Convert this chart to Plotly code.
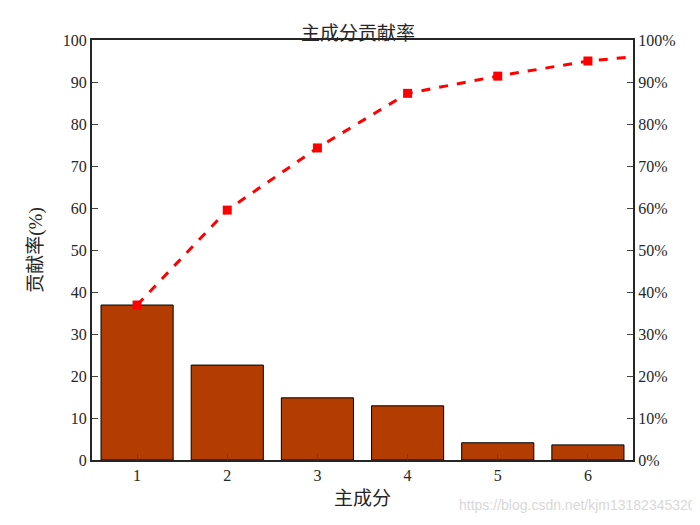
import plotly.graph_objects as go

components = [1, 2, 3, 4, 5, 6, 7]
contrib = [36.9, 22.6, 14.8, 12.9, 4.1, 3.6, 2.0]
cumulative = [36.9, 59.5, 74.3, 87.3, 91.4, 95.0, 97.0]

font = "Liberation Serif, Noto Sans CJK SC"
fig = go.Figure()
fig.add_trace(go.Bar(x=components, y=contrib, marker=dict(color="#B33C00", line=dict(color="black", width=1)), width=0.8))
fig.add_trace(go.Scatter(x=components, y=cumulative, mode="lines+markers", yaxis="y2",
                         line=dict(color="red", width=3, dash="dash"),
                         marker=dict(symbol="square", size=9, color="red")))
fig.update_layout(
    width=700, height=525, showlegend=False, plot_bgcolor="white", paper_bgcolor="white",
    margin=dict(l=84, r=75, t=32, b=73),
    font=dict(family=font, size=16, color="#262626"),
    title=dict(text="主成分贡献率", x=0.5, xanchor="center", y=0.965, font=dict(size=19)),
    xaxis=dict(range=[0.5, 6.5], tickvals=[1, 2, 3, 4, 5, 6], title=dict(text="主成分", font=dict(size=19), standoff=8),
               ticks="inside", ticklen=6, showline=True, linecolor="#262626", linewidth=2, mirror=True, showgrid=False),
    yaxis=dict(range=[0, 100], dtick=10, title=dict(text="贡献率(%)", font=dict(size=19)), ticks="inside", ticklen=6,
               showline=True, linecolor="#262626", linewidth=2, showgrid=False, zeroline=False),
    yaxis2=dict(range=[0, 100], dtick=10, overlaying="y", side="right", ticksuffix="%", ticks="inside", ticklen=6,
                showline=True, linecolor="#262626", linewidth=2, showgrid=False, zeroline=False),
)
fig.add_annotation(text="https://blog.csdn.net/kjm13182345320", xref="paper", yref="paper", x=1.12, y=-0.13,
                   showarrow=False, xanchor="right", font=dict(family="Liberation Sans", size=14, color="#d8d8d8"))
fig.write_html("out.html")
